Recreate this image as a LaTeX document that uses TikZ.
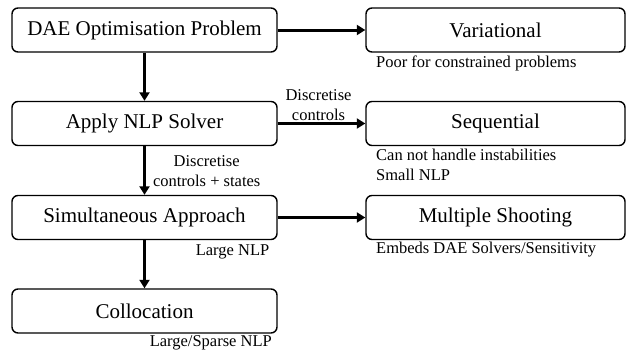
\documentclass[tikz,border=0pt]{standalone}
\usepackage{fontspec}
\setmainfont{Liberation Serif}
\usetikzlibrary{arrows.meta}
\tikzset{
	stage/.style={draw,line width=1.4pt,rounded corners=6pt,minimum width=265pt,minimum height=44pt,inner sep=0pt,font=\fontsize{21}{24}\selectfont},
	method/.style={stage,minimum width=259pt},
	note/.style={inner sep=0pt,font=\fontsize{16.5}{20}\selectfont},
	link/.style={->,line width=3pt},
}
\begin{document}
\begin{tikzpicture}[x=1pt,y=1pt,>={Triangle[width=10pt,length=8.5pt]},line join=round]
		\useasboundingbox (0,0) rectangle (626,-356);
		\def\xl{144.5};
		\def\xr{495.5};
		% left column
		\node[stage] (dae) at (\xl,-30) {DAE Optimisation Problem};
		\node[stage] (nlp) at (\xl,-123.5) {Apply NLP Solver};
		\node[stage] (sim) at (\xl,-217.5) {Simultaneous Approach};
		\node[stage] (col) at (\xl,-311) {Collocation};
		% right column
		\node[method] (var) at (\xr,-30) {Variational};
		\node[method] (seq) at (\xr,-123.5) {Sequential};
		\node[method] (msh) at (\xr,-217.5) {Multiple Shooting};
		% notes
		\node[note,anchor=west] (varnote) at (376,-63) {Poor for constrained problems};
		\node[note,anchor=west,align=left] (seqnote) at (376,-165) {Can not handle instabilities\\Small NLP};
		\node[note,anchor=west] (mshnote) at (376,-250) {Embeds DAE Solvers/Sensitivity};
		\node[note,anchor=east] (simnote) at (269.5,-252) {Large NLP};
		\node[note,anchor=east] (colnote) at (272,-343) {Large/Sparse NLP};
		% arrows
		\draw[link] (dae) -- (nlp);
		\draw[link] (nlp) -- node[note,right=7pt,yshift=-1pt,align=center]{Discretise\\controls + states} (sim);
		\draw[link] (sim) -- (col);
		\draw[link] (dae) -- (var);
		\draw[link] (nlp) -- node[note,above=1.5pt,align=center,xshift=-3pt]{Discretise\\controls} (seq);
		\draw[link] (sim) -- (msh);
		\end{tikzpicture}
\end{document}
